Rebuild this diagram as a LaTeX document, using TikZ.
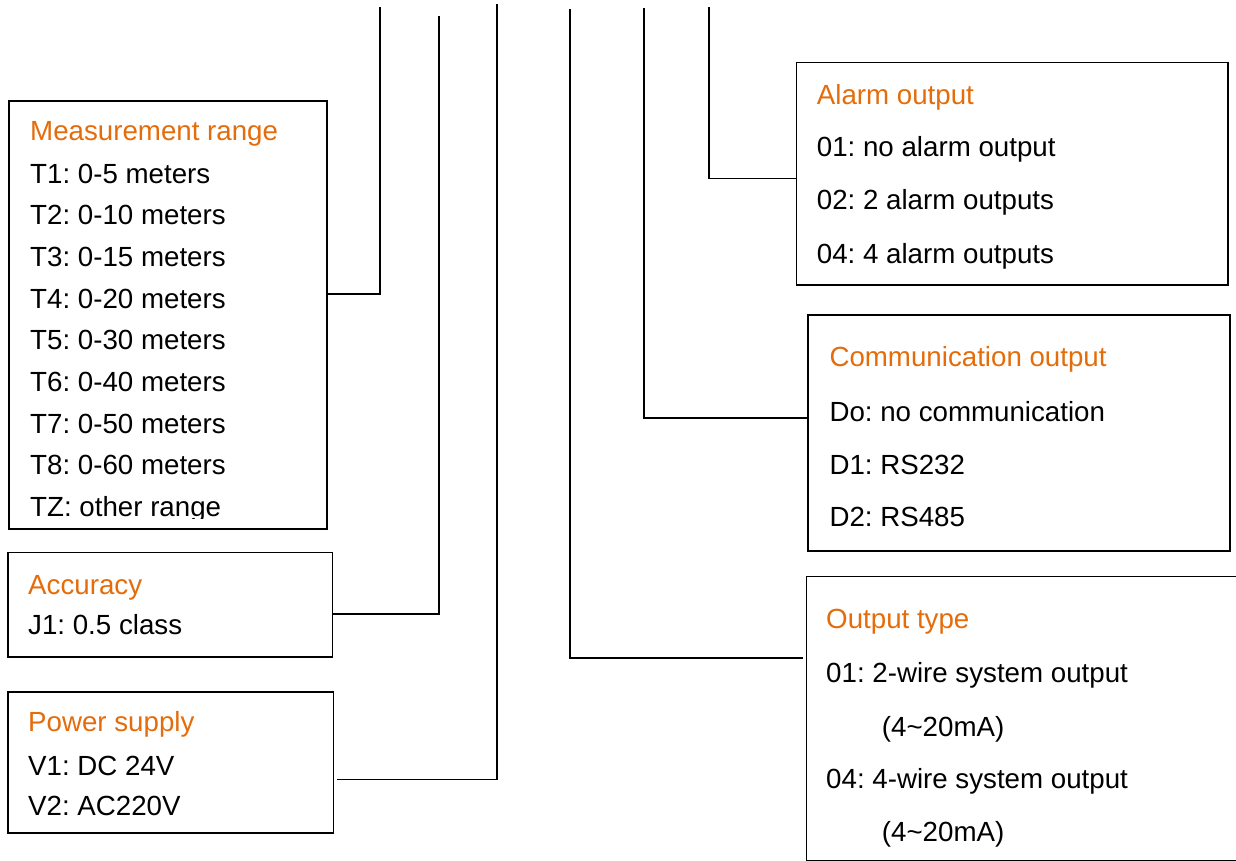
\documentclass[tikz,border=0pt]{standalone}
\usepackage{fontspec}
\setmainfont{Liberation Sans}
\definecolor{titleor}{RGB}{228,108,10}
\frenchspacing
\begin{document}
\begin{tikzpicture}[x=1pt,y=-1pt,
  boxs/.style={draw=black,line width=1.6pt,rectangle,inner sep=0pt,anchor=north west},
  txt/.style={anchor=base west,inner sep=0pt,font=\fontsize{27.7}{33}\selectfont\frenchspacing},
  ttl/.style={txt,text=titleor},
  conn/.style={draw=black,line width=1.6pt}]
\clip (0,0) rectangle (1236,861);
\useasboundingbox (0,0) rectangle (1236,861);
% boxes
\node[boxs,minimum width=317.7pt,minimum height=428.3pt] (meas) at (8.3,100) {};
\node[boxs,minimum width=324.4pt,minimum height=104.3pt] (acc) at (7.3,551.7) {};
\node[boxs,minimum width=325.4pt,minimum height=141.3pt] (pow) at (7.3,691) {};
\node[boxs,minimum width=431.6pt,minimum height=222.3pt] (alarm) at (795.7,61.7) {};
\node[boxs,minimum width=422pt,minimum height=236pt] (comm) at (807.3,314) {};
\node[boxs,minimum width=450pt,minimum height=284.3pt] (outt) at (805.7,575.7) {};
% measurement range
\node[ttl] (meast) at (30,141) {Measurement range};
\node[txt] (meas1) at (30,183) {T1: 0-5 meters};
\node[txt] (meas2) at (30,224.7) {T2: 0-10 meters};
\node[txt] (meas3) at (30,266.4) {T3: 0-15 meters};
\node[txt] (meas4) at (30,308.1) {T4: 0-20 meters};
\node[txt] (meas5) at (30,349.8) {T5: 0-30 meters};
\node[txt] (meas6) at (30,391.5) {T6: 0-40 meters};
\node[txt] (meas7) at (30,433.2) {T7: 0-50 meters};
\node[txt] (meas8) at (30,474.9) {T8: 0-60 meters};
\begin{scope}
\clip (10,480) rectangle (320,518.5);
\node[txt] (measz) at (30,516.6) {TZ: other range};
\end{scope}
% accuracy
\node[ttl] (acct) at (28,594.3) {Accuracy};
\node[txt] (acc1) at (28,634.3) {J1: 0.5 class};
% power
\node[ttl] (powt) at (28,731.7) {Power supply};
\node[txt] (pow1) at (28,775) {V1: DC 24V};
\node[txt] (pow2) at (28,815) {V2: AC220V};
% alarm
\node[ttl] (alarmt) at (816.7,104.3) {Alarm output};
\node[txt] (alarm1) at (816.7,156.7) {01: no alarm output};
\node[txt] (alarm2) at (816.7,210) {02: 2 alarm outputs};
\node[txt] (alarm4) at (816.7,263.3) {04: 4 alarm outputs};
% communication
\node[ttl] (commt) at (829.3,366.7) {Communication output};
\node[txt] (comm0) at (829.3,421) {Do: no communication};
\node[txt] (comm1) at (829.3,474) {D1: RS232};
\node[txt] (comm2) at (829.3,526.7) {D2: RS485};
% output type
\node[ttl] (outtt) at (826,628.3) {Output type};
\node[txt] (out1) at (826,682.7) {01: 2-wire system output};
\node[txt] (out1b) at (881.7,736.7) {(4\textasciitilde 20mA)};
\node[txt] (out4) at (826,788.3) {04: 4-wire system output};
\node[txt] (out4b) at (881.7,841.5) {(4\textasciitilde 20mA)};
% connector tops
\coordinate (c1) at (380,7);
\coordinate (c2) at (439,16);
\coordinate (c3) at (497,4);
\coordinate (c4) at (570,9);
\coordinate (c5) at (644,8);
\coordinate (c6) at (709,7);
% connectors
\draw[conn] (meas.east |- 0,294) -- (c1 |- 0,294) -- (c1);
\draw[conn] (acc.east |- 0,614) -- (c2 |- 0,614) -- (c2);
\draw[conn] ([xshift=3pt]pow.east |- 0,779.5) -- (c3 |- 0,779.5) -- (c3);
\draw[conn] ([xshift=-3pt]outt.west |- 0,658) -- (c4 |- 0,658) -- (c4);
\draw[conn] (comm.west |- 0,418) -- (c5 |- 0,418) -- (c5);
\draw[conn] (alarm.west |- 0,178.5) -- (c6 |- 0,178.5) -- (c6);
\end{tikzpicture}
\end{document}
